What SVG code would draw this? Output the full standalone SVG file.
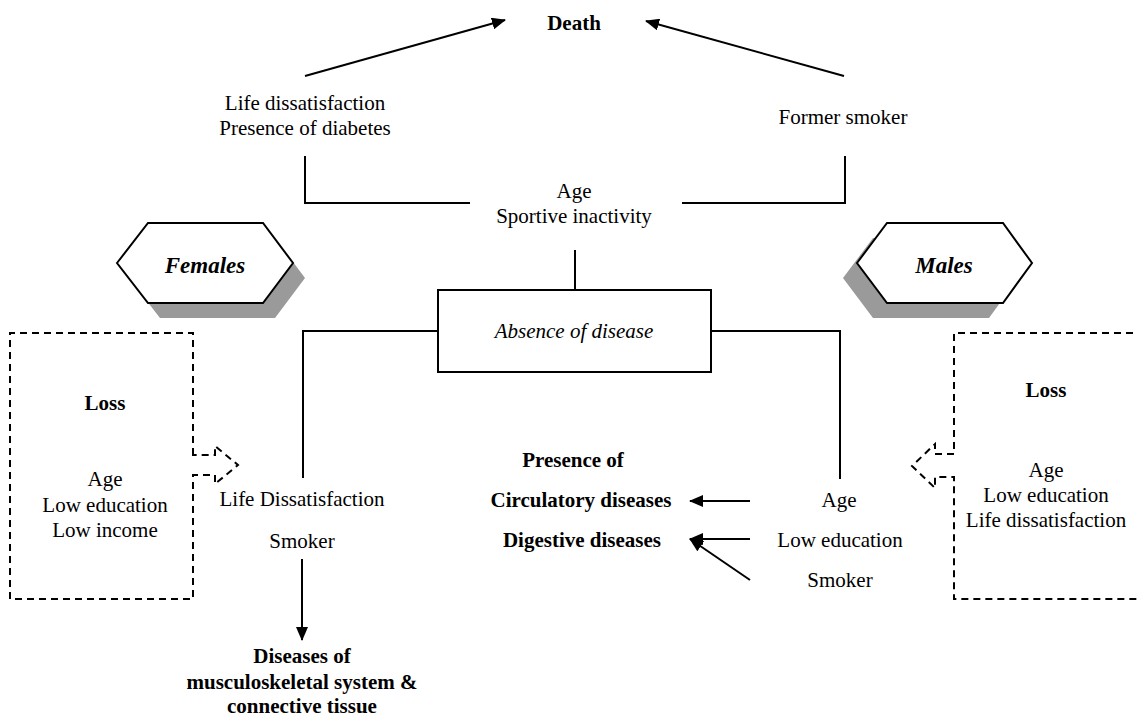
<svg xmlns="http://www.w3.org/2000/svg" width="1137" height="716" viewBox="0 0 1137 716" font-family="'Liberation Serif', 'DejaVu Serif', 'Times New Roman', serif">
<style>
text{font-family:'Liberation Serif','DejaVu Serif','Times New Roman',serif;font-size:21px;fill:#000;text-anchor:middle}
.b{font-weight:bold}
.i{font-style:italic}
.bi{font-weight:bold;font-style:italic;font-size:23px}
.ln{fill:none;stroke:#000;stroke-width:2}
.dash{fill:none;stroke:#000;stroke-width:2;stroke-dasharray:7,5}
.hex{fill:#fff;stroke:#000;stroke-width:2}
.shadow{fill:#9a9a9a}
</style>
<defs>
<marker id="ah" markerUnits="userSpaceOnUse" markerWidth="14" markerHeight="12" refX="13" refY="6" orient="auto">
<path d="M0,0 L14,6 L0,12 z" fill="#000"/>
</marker>
</defs>
<rect width="1137" height="716" fill="#fff"/>

<g id="connectors">
<path class="ln" d="M305,76 L505,20" marker-end="url(#ah)"/>
<path class="ln" d="M844,76 L646,21" marker-end="url(#ah)"/>
<path class="ln" d="M305,156 V203 H470"/>
<path class="ln" d="M682,203 H845 V156"/>
<path class="ln" d="M575,250 V290"/>
<path class="ln" d="M439,331 H303 V478"/>
<path class="ln" d="M711,331 H840 V479"/>
<path class="ln" d="M302,559 V640" marker-end="url(#ah)"/>
<path class="ln" d="M750,501 H690" marker-end="url(#ah)"/>
<path class="ln" d="M750,539 H690" marker-end="url(#ah)"/>
<path class="ln" d="M750,580 L690,539" marker-end="url(#ah)"/>
</g>

<g id="death"><text class="b" x="574" y="30">Death</text></g>
<g id="left-top">
<text x="305" y="110">Life dissatisfaction</text>
<text x="305" y="135">Presence of diabetes</text>
</g>
<g id="former-smoker"><text x="843" y="124">Former smoker</text></g>
<g id="age-sport">
<text x="574" y="198">Age</text>
<text x="574" y="223">Sportive inactivity</text>
</g>

<g id="absence">
<rect x="438" y="290" width="273" height="82" fill="#fff" stroke="#000" stroke-width="2"/>
<text class="i" x="574" y="338">Absence of disease</text>
</g>

<g id="females">
<polygon class="shadow" points="129,278 160,238 275,238 305,278 275,318 160,318"/>
<polygon class="hex" points="117,263 148,223 263,223 293,263 263,303 148,303"/>
<text class="bi" x="205" y="273">Females</text>
</g>

<g id="males">
<polygon class="shadow" points="843,278 873,238 989,238 1018,278 989,318 873,318"/>
<polygon class="hex" points="857,263 887,223 1003,223 1032,263 1003,303 887,303"/>
<text class="bi" x="944" y="273">Males</text>
</g>

<g id="loss-left">
<path class="dash" d="M193,455 V333 H10 V599 H193 V475 H215 V484 L238,465 L215,446 V455 Z"/>
<text class="b" x="105" y="410">Loss</text>
<text x="105" y="486">Age</text>
<text x="105" y="512">Low education</text>
<text x="105" y="537">Low income</text>
</g>

<g id="loss-right">
<path class="dash" d="M1145,333 H954 V454 H935 V444 L912,466 L935,488 V477 H954 V599 H1145"/>
<text class="b" x="1046" y="397">Loss</text>
<text x="1046" y="477">Age</text>
<text x="1046" y="502">Low education</text>
<text x="1046" y="527">Life dissatisfaction</text>
</g>

<g id="female-factors">
<text x="302" y="506">Life Dissatisfaction</text>
<text x="302" y="548">Smoker</text>
</g>

<g id="musculoskeletal">
<text class="b" x="302" y="663">Diseases of</text>
<text class="b" x="302" y="689">musculoskeletal system &amp;</text>
<text class="b" x="302" y="713">connective tissue</text>
</g>

<g id="presence">
<text class="b" x="573" y="467">Presence of</text>
<text class="b" x="581" y="507">Circulatory diseases</text>
<text class="b" x="582" y="547">Digestive diseases</text>
</g>

<g id="male-factors">
<text x="839" y="507">Age</text>
<text x="840" y="547">Low education</text>
<text x="840" y="587">Smoker</text>
</g>
</svg>
